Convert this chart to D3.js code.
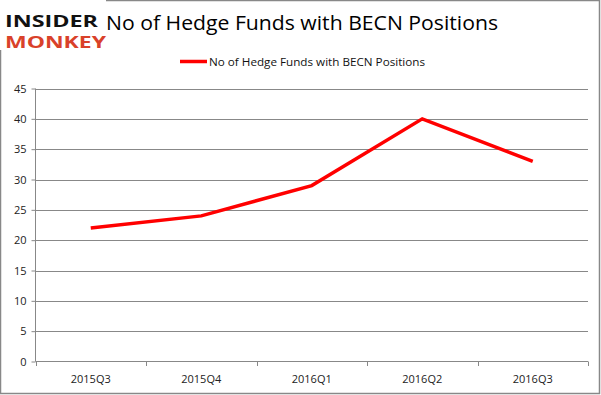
<!DOCTYPE html>
<html><head><meta charset="utf-8">
<script src="https://cdn.jsdelivr.net/npm/d3@7"></script>
<style>body{margin:0;background:#fff}svg{display:block}text{font-family:"Open Sans","Liberation Sans",sans-serif}</style>
</head><body><svg id="c" width="601" height="395"></svg>
<script>
const categories = ["2015Q3","2015Q4","2016Q1","2016Q2","2016Q3"];
const values = [22,24,29,40,33];
const yTicks = [0,5,10,15,20,25,30,35,40,45];
const seriesName = "No of Hedge Funds with BECN Positions";
const title = "No of Hedge Funds with BECN Positions";

const svg = d3.select("#c");
svg.append("rect").attr("x",0.5).attr("y",0.5).attr("width",599).attr("height",393)
  .attr("fill","#fff").attr("stroke","#888").attr("stroke-width",1.5);

const x = d3.scaleBand().domain(categories).range([35.5,588]);
const y = d3.scaleLinear().domain([0,45]).range([361.5,88.5]);

// gridlines
svg.append("g").selectAll("line").data(yTicks.filter(d=>d>0)).join("line")
  .attr("x1",35.5).attr("x2",588).attr("y1",d=>Math.round(y(d))+0.5).attr("y2",d=>Math.round(y(d))+0.5)
  .attr("stroke","#888").attr("stroke-width",1);

// y axis
const ya = svg.append("g").attr("transform","translate(35.5,0)")
  .call(d3.axisLeft(y).tickValues(yTicks).tickSize(4).tickPadding(5));
ya.select(".domain").attr("stroke","#888").attr("d","M0,88.5V361.5");
ya.selectAll(".tick line").attr("stroke","#888");
ya.selectAll("text").attr("fill","#222").style("font-size","11px").attr("font-family","'Open Sans',sans-serif");

// x axis
const xa = svg.append("g").attr("transform","translate(0,361.5)")
  .call(d3.axisBottom(x).tickSize(0).tickPadding(14));
xa.select(".domain").attr("stroke","#888").attr("d","M35.5,0H588");
xa.selectAll("text").attr("fill","#222").style("font-size","11px").attr("font-family","'Open Sans',sans-serif");
const edges = categories.map(c=>x(c)).concat([588]);
svg.append("g").selectAll("line").data(edges).join("line")
  .attr("x1",d=>Math.round(d)+0.5).attr("x2",d=>Math.round(d)+0.5).attr("y1",361.5).attr("y2",366)
  .attr("stroke","#888");

// line
const line = d3.line().x((d,i)=>x(categories[i])+x.bandwidth()/2).y(d=>y(d));
svg.append("path").datum(values).attr("d",line).attr("fill","none")
  .attr("stroke","#ff0000").attr("stroke-width",3.5).attr("stroke-linejoin","miter");

// legend
svg.append("line").attr("x1",180).attr("x2",207).attr("y1",61.5).attr("y2",61.5)
  .attr("stroke","#ff0000").attr("stroke-width",3.5);
svg.append("text").attr("x",209).attr("y",65.5).text(seriesName)
  .style("font-size","11px").attr("fill","#111").attr("textLength",216).attr("lengthAdjust","spacingAndGlyphs");

// logo
svg.append("rect").attr("x",0).attr("y",0).attr("width",106).attr("height",50).attr("fill","#fff");
svg.append("text").attr("x",5).attr("y",27).text("INSIDER")
  .attr("font-family","'DejaVu Sans',sans-serif").attr("font-weight","bold").style("font-size","16px")
  .attr("fill","#111").attr("textLength",93).attr("lengthAdjust","spacingAndGlyphs");
svg.append("text").attr("x",5).attr("y",48).text("MONKEY")
  .attr("font-family","'DejaVu Sans',sans-serif").attr("font-weight","bold").style("font-size","16px")
  .attr("fill","#d9412a").attr("textLength",101).attr("lengthAdjust","spacingAndGlyphs");

// title
svg.append("text").attr("x",106).attr("y",30).text(title)
  .style("font-size","20px").attr("fill","#000").attr("textLength",392).attr("lengthAdjust","spacingAndGlyphs");
</script></body></html>
